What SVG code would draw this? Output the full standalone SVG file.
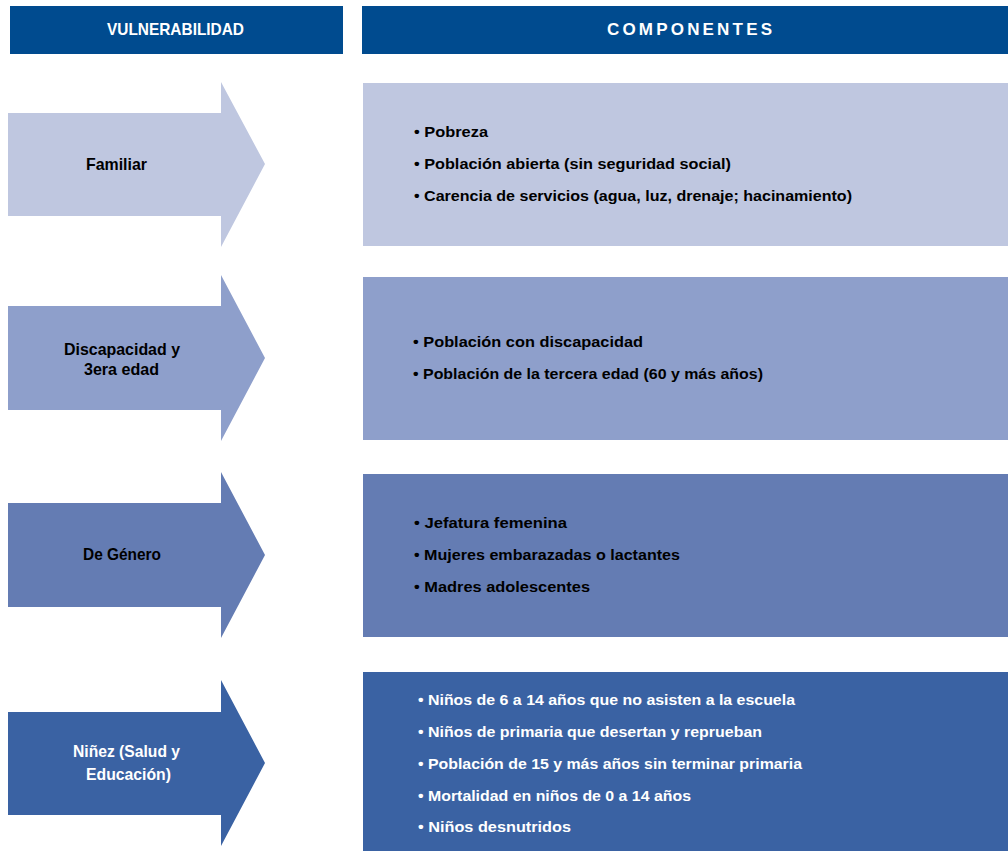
<svg xmlns="http://www.w3.org/2000/svg" width="1008" height="851" viewBox="0 0 1008 851">
<style>
text{font-family:"Liberation Sans",Arial,sans-serif;font-weight:bold}
.hd{fill:#004b8f}
.ht{fill:#fff;font-size:17px}
.lbl{font-size:17px;fill:#000}
.it{font-size:15.5px;fill:#000}
.w{fill:#fff}
.c1{fill:#bfc7e0}.c2{fill:#8e9fcb}.c3{fill:#647cb3}.c4{fill:#3a62a3}
</style>
<g id="header-vulnerabilidad">
<rect class="hd" x="10" y="6" width="333" height="48"/>
<text class="ht" x="107" y="35" textLength="137" lengthAdjust="spacingAndGlyphs">VULNERABILIDAD</text>
</g>
<g id="header-componentes">
<rect class="hd" x="362" y="6" width="646" height="48"/>
<text class="ht" x="607" y="35" textLength="165" lengthAdjust="spacing">COMPONENTES</text>
</g>
<g id="arrow-familiar">
<polygon class="c1" points="8,113 221,113 221,82 265,164 221,247 221,216 8,216"/>
<text class="lbl" x="86" y="170" textLength="61" lengthAdjust="spacingAndGlyphs">Familiar</text>
</g>
<g id="box-familiar">
<rect class="c1" x="363" y="83" width="645" height="163"/>
<text class="it" x="414" y="137" textLength="74" lengthAdjust="spacingAndGlyphs">• Pobreza</text>
<text class="it" x="414" y="169" textLength="317" lengthAdjust="spacingAndGlyphs">• Población abierta (sin seguridad social)</text>
<text class="it" x="414" y="201" textLength="438" lengthAdjust="spacingAndGlyphs">• Carencia de servicios (agua, luz, drenaje; hacinamiento)</text>
</g>
<g id="arrow-discapacidad">
<polygon class="c2" points="8,306 221,306 221,275 265,358 221,441 221,410 8,410"/>
<text class="lbl" x="64" y="355" textLength="116" lengthAdjust="spacingAndGlyphs">Discapacidad y</text>
<text class="lbl" x="84" y="375" textLength="75" lengthAdjust="spacingAndGlyphs">3era edad</text>
</g>
<g id="box-discapacidad">
<rect class="c2" x="363" y="277" width="645" height="163"/>
<text class="it" x="413" y="347" textLength="230" lengthAdjust="spacingAndGlyphs">• Población con discapacidad</text>
<text class="it" x="413" y="379" textLength="350" lengthAdjust="spacingAndGlyphs">• Población de la tercera edad (60 y más años)</text>
</g>
<g id="arrow-genero">
<polygon class="c3" points="8,503 221,503 221,472 265,555 221,638 221,607 8,607"/>
<text class="lbl" x="83" y="560" textLength="78" lengthAdjust="spacingAndGlyphs">De Género</text>
</g>
<g id="box-genero">
<rect class="c3" x="363" y="474" width="645" height="163"/>
<text class="it" x="414" y="528" textLength="153" lengthAdjust="spacingAndGlyphs">• Jefatura femenina</text>
<text class="it" x="414" y="560" textLength="266" lengthAdjust="spacingAndGlyphs">• Mujeres embarazadas o lactantes</text>
<text class="it" x="414" y="592" textLength="176" lengthAdjust="spacingAndGlyphs">• Madres adolescentes</text>
</g>
<g id="arrow-ninez">
<polygon class="c4" points="8,712 221,712 221,680 265,763 221,846 221,815 8,815"/>
<text class="lbl w" x="73" y="757" textLength="107" lengthAdjust="spacingAndGlyphs">Niñez (Salud y</text>
<text class="lbl w" x="86" y="780" textLength="85" lengthAdjust="spacingAndGlyphs">Educación)</text>
</g>
<g id="box-ninez">
<rect class="c4" x="363" y="672" width="645" height="179"/>
<text class="it w" x="418" y="705" textLength="377" lengthAdjust="spacingAndGlyphs">• Niños de 6 a 14 años que no asisten a la escuela</text>
<text class="it w" x="418" y="737" textLength="344" lengthAdjust="spacingAndGlyphs">• Niños de primaria que desertan y reprueban</text>
<text class="it w" x="418" y="769" textLength="384" lengthAdjust="spacingAndGlyphs">• Población de 15 y más años sin terminar primaria</text>
<text class="it w" x="418" y="801" textLength="273" lengthAdjust="spacingAndGlyphs">• Mortalidad en niños de 0 a 14 años</text>
<text class="it w" x="418" y="832" textLength="153" lengthAdjust="spacingAndGlyphs">• Niños desnutridos</text>
</g>
<g id="connectors"></g>
</svg>
